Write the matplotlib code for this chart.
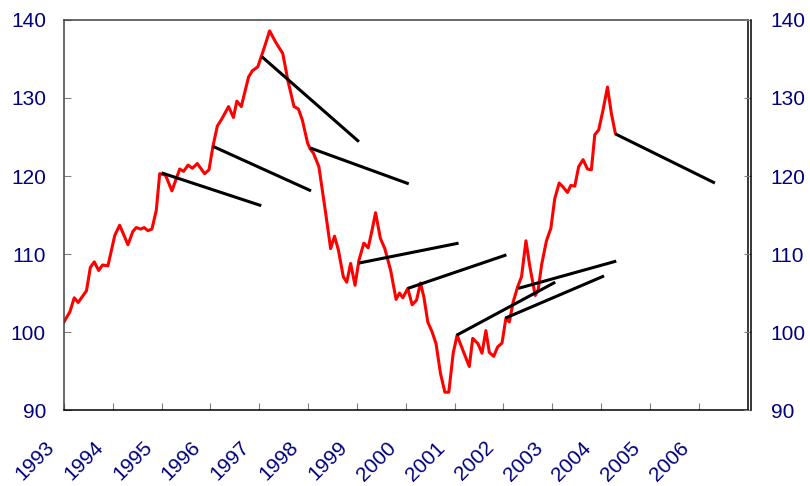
import matplotlib
matplotlib.use("Agg")
import matplotlib.pyplot as plt
import matplotlib.transforms as mtransforms

plt.rcParams['font.family'] = ['Liberation Sans', 'DejaVu Sans']

# index (decimal year, value)
years = [1993.00, 1993.12, 1993.21, 1993.29, 1993.46, 1993.54, 1993.62, 1993.71, 1993.79, 1993.90,
         1994.04, 1994.14, 1994.31, 1994.41, 1994.48, 1994.57, 1994.64, 1994.72, 1994.80, 1994.89,
         1994.96, 1995.08, 1995.21, 1995.37, 1995.45, 1995.54, 1995.63, 1995.73, 1995.88, 1995.97,
         1996.05, 1996.14, 1996.23, 1996.37, 1996.47, 1996.54, 1996.63, 1996.78, 1996.86, 1996.97,
         1997.05, 1997.12, 1997.21, 1997.33, 1997.48, 1997.59, 1997.71, 1997.80, 1997.88, 1997.99,
         1998.04, 1998.11, 1998.22, 1998.36, 1998.46, 1998.54, 1998.62, 1998.72, 1998.79, 1998.87,
         1998.96, 1999.04, 1999.14, 1999.23, 1999.31, 1999.38, 1999.48, 1999.57, 1999.69, 1999.80,
         1999.87, 1999.94, 2000.04, 2000.13, 2000.22, 2000.30, 2000.37, 2000.45, 2000.54, 2000.62,
         2000.71, 2000.80, 2000.88, 2000.97, 2001.05, 2001.18, 2001.30, 2001.37, 2001.48, 2001.56,
         2001.64, 2001.71, 2001.80, 2001.88, 2001.97, 2002.05, 2002.12, 2002.20, 2002.29, 2002.37,
         2002.46, 2002.54, 2002.65, 2002.71, 2002.78, 2002.88, 2002.97, 2003.05, 2003.14, 2003.22,
         2003.31, 2003.38, 2003.46, 2003.54, 2003.63, 2003.72, 2003.80, 2003.87, 2003.95, 2004.04,
         2004.13, 2004.21, 2004.29]
index = [101.3, 102.6, 104.4, 103.8, 105.3, 108.3, 109.0, 107.9, 108.6, 108.5,
         112.4, 113.7, 111.2, 112.9, 113.4, 113.2, 113.4, 113.0, 113.2, 115.6,
         120.3, 120.1, 118.1, 120.9, 120.6, 121.4, 121.0, 121.6, 120.3, 120.8,
         123.8, 126.4, 127.3, 128.9, 127.5, 129.6, 128.9, 132.7, 133.5, 134.0,
         135.5, 136.8, 138.6, 137.2, 135.7, 132.1, 128.9, 128.6, 127.2, 124.2,
         123.5, 122.9, 121.2, 115.2, 110.7, 112.3, 110.5, 107.1, 106.4, 108.8,
         106.0, 109.2, 111.4, 110.8, 113.1, 115.3, 112.0, 110.7, 107.9, 104.2,
         105.0, 104.4, 105.6, 103.5, 104.1, 106.3, 104.5, 101.3, 100.0, 98.5,
         94.7, 92.3, 92.3, 97.3, 99.6, 97.5, 95.6, 99.2, 98.5, 97.3,
         100.2, 97.4, 96.9, 98.1, 98.6, 101.8, 101.3, 103.9, 105.8, 107.1,
         111.7, 108.4, 104.7, 105.4, 108.6, 111.7, 113.3, 117.1, 119.1, 118.6,
         117.9, 118.8, 118.7, 121.2, 122.1, 120.9, 120.8, 125.3, 125.9, 128.5,
         131.4, 128.0, 125.5]

# forecast lines: start and end
fc_start_year = [1995.0, 1996.05, 1997.05, 1998.04, 1999.04, 2000.04, 2001.04, 2002.04, 2002.30, 2004.29]
fc_start_val = [120.4, 123.8, 135.3, 123.6, 108.85, 105.6, 99.6, 101.8, 105.6, 125.4]
fc_end_year = [1997.04, 1998.06, 1999.04, 2000.06, 2001.08, 2002.06, 2003.06, 2004.06, 2004.31, 2006.33]
fc_end_val = [116.2, 118.1, 124.4, 119.0, 111.4, 109.9, 106.4, 107.2, 109.1, 119.1]

year_ticks = list(range(1993, 2007))
y_ticks = [90, 100, 110, 120, 130, 140]

navy = '#000080'

fig = plt.figure(figsize=(8.1, 4.86), dpi=100)
ax = fig.add_axes([0.079, 0.156, 0.844, 0.803])

for i in range(len(fc_start_year)):
    ax.plot([fc_start_year[i], fc_end_year[i]], [fc_start_val[i], fc_end_val[i]],
            color='black', lw=2.2, solid_capstyle='butt', zorder=3)
ax.plot(years, index, color='red', lw=2.2, zorder=2)

ax.set_xlim(1993, 2007)
ax.set_ylim(90, 140)
ax.set_xticks(year_ticks)
ax.set_xticklabels([str(y) for y in year_ticks], rotation=45, ha='right',
                   fontsize=15, color=navy)
ax.set_yticks(y_ticks)
ax.set_yticklabels([str(v) for v in y_ticks], fontsize=15, color=navy)
ax.tick_params(axis='x', direction='in', length=5, color='#808080', pad=20)
ax.tick_params(axis='y', direction='in', length=5, color='#808080', pad=13)

shift = mtransforms.ScaledTranslation(-6 / 100, 0, fig.dpi_scale_trans)
for lab in ax.get_xticklabels():
    lab.set_transform(lab.get_transform() + shift)

ax.spines['top'].set_color('#404040')
ax.spines['left'].set_color('#404040')
ax.spines['bottom'].set_color('black')
ax.spines['right'].set_color('black')
for s in ax.spines.values():
    s.set_linewidth(1.1)

ax2 = ax.twinx()
ax2.set_ylim(90, 140)
ax2.set_yticks(y_ticks)
ax2.tick_params(axis='y', direction='in', length=5, color='#808080', pad=14,
                labelsize=15, labelcolor=navy)
ax2.spines['right'].set_position(('outward', 2.5))
ax2.spines['right'].set_linewidth(1.1)
for s in ['top', 'left', 'bottom']:
    ax2.spines[s].set_visible(False)

fig.savefig('out.png', dpi=100)
